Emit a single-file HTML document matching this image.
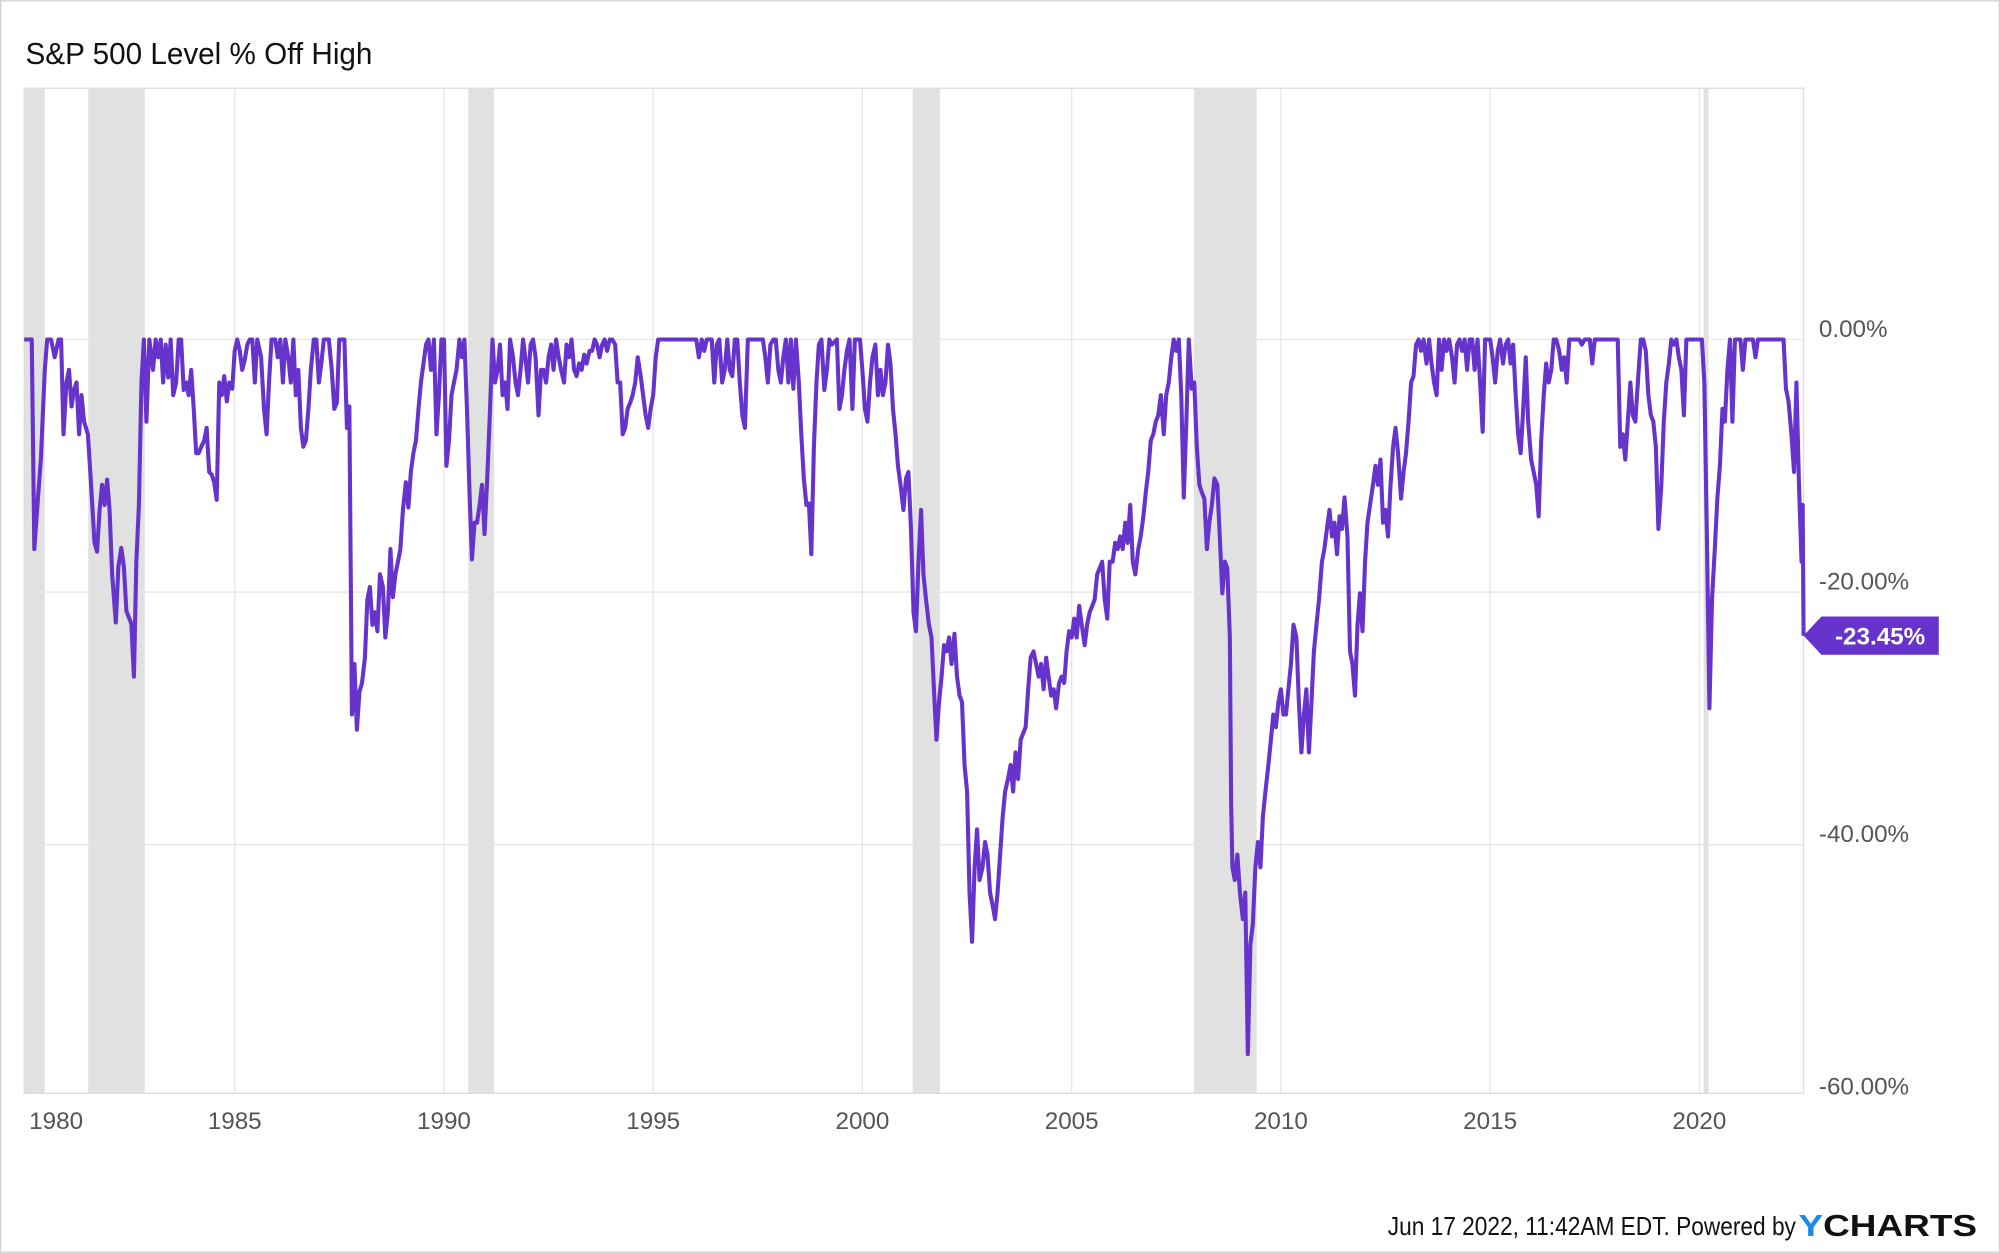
<!DOCTYPE html>
<html><head><meta charset="utf-8"><title>S&amp;P 500 Level % Off High</title>
<style>
html,body{margin:0;padding:0;background:#fff;}
svg{display:block;}
text{font-family:"Liberation Sans",sans-serif;}
</style></head>
<body>
<svg id="chart" width="2000" height="1253" viewBox="0 0 1568 982" xmlns="http://www.w3.org/2000/svg">
<rect x="0.5" y="0.5" width="1567" height="981" fill="#fff" stroke="#cfcfcf" stroke-width="1"/>
<text x="20" y="50" font-size="24" fill="#111" textLength="272" lengthAdjust="spacingAndGlyphs">S&amp;P 500 Level % Off High</text>
<g id="recessions"></g>
<g id="grid"></g>
<rect x="19" y="69" width="1395" height="788" fill="none" stroke="#dcdcdc" stroke-width="1"/>
<g id="series"></g>
<g id="yaxis"></g>
<g id="xaxis"></g>
<g id="endlabel"></g>
<text x="1408" y="968" font-size="20" fill="#111" text-anchor="end" textLength="320" lengthAdjust="spacingAndGlyphs">Jun 17 2022, 11:42AM EDT. Powered by</text>
<text x="1410" y="969" font-size="24" font-weight="bold" fill="#111" textLength="140" lengthAdjust="spacingAndGlyphs"><tspan fill="#1a8ae6">Y</tspan>CHARTS</text>
</svg>
<script>
const dates = [1979.97,1980.15,1980.21,1980.30,1980.37,1980.46,1980.52,1980.61,1980.70,1980.79,1980.85,1980.91,1980.98,1981.04,1981.10,1981.16,1981.22,1981.28,1981.34,1981.40,1981.49,1981.55,1981.65,1981.71,1981.77,1981.83,1981.89,1981.95,1982.01,1982.07,1982.16,1982.22,1982.29,1982.35,1982.41,1982.47,1982.53,1982.59,1982.65,1982.71,1982.77,1982.83,1982.89,1982.96,1983.05,1983.11,1983.17,1983.23,1983.29,1983.35,1983.41,1983.47,1983.53,1983.60,1983.66,1983.72,1983.78,1983.84,1983.90,1983.96,1984.02,1984.08,1984.14,1984.20,1984.27,1984.33,1984.39,1984.45,1984.51,1984.57,1984.63,1984.69,1984.75,1984.81,1984.87,1984.94,1985.00,1985.06,1985.12,1985.18,1985.24,1985.30,1985.36,1985.42,1985.48,1985.54,1985.63,1985.70,1985.76,1985.82,1985.88,1985.97,1986.03,1986.09,1986.15,1986.21,1986.28,1986.34,1986.40,1986.46,1986.52,1986.58,1986.64,1986.70,1986.76,1986.82,1986.89,1986.95,1987.01,1987.07,1987.13,1987.25,1987.32,1987.38,1987.44,1987.50,1987.62,1987.68,1987.74,1987.80,1987.86,1987.92,1987.98,1988.04,1988.11,1988.17,1988.23,1988.29,1988.35,1988.41,1988.47,1988.54,1988.60,1988.66,1988.72,1988.78,1988.84,1988.90,1988.96,1989.02,1989.09,1989.15,1989.21,1989.27,1989.33,1989.39,1989.45,1989.51,1989.57,1989.63,1989.69,1989.76,1989.82,1989.88,1989.94,1990.00,1990.06,1990.12,1990.18,1990.24,1990.30,1990.37,1990.43,1990.49,1990.55,1990.61,1990.67,1990.73,1990.79,1990.85,1990.91,1990.97,1991.04,1991.10,1991.16,1991.22,1991.28,1991.34,1991.40,1991.46,1991.52,1991.58,1991.65,1991.71,1991.77,1991.83,1991.89,1991.95,1992.01,1992.07,1992.13,1992.19,1992.26,1992.32,1992.38,1992.44,1992.50,1992.56,1992.62,1992.68,1992.74,1992.80,1992.87,1992.93,1992.99,1993.05,1993.11,1993.17,1993.23,1993.29,1993.35,1993.41,1993.48,1993.54,1993.60,1993.66,1993.72,1993.78,1993.84,1993.90,1993.96,1994.02,1994.09,1994.15,1994.21,1994.27,1994.33,1994.39,1994.45,1994.51,1994.57,1994.63,1994.70,1994.76,1994.82,1994.88,1994.94,1995.00,1995.06,1995.12,1996.03,1996.09,1996.16,1996.22,1996.28,1996.40,1996.46,1996.52,1996.58,1996.65,1996.71,1996.77,1996.83,1996.89,1996.95,1997.01,1997.07,1997.13,1997.19,1997.26,1997.62,1997.68,1997.74,1997.80,1997.87,1997.93,1997.99,1998.05,1998.11,1998.17,1998.23,1998.29,1998.35,1998.41,1998.48,1998.54,1998.60,1998.66,1998.72,1998.78,1998.84,1998.90,1998.96,1999.02,1999.09,1999.15,1999.21,1999.27,1999.39,1999.45,1999.51,1999.57,1999.63,1999.69,1999.76,1999.82,1999.94,2000.00,2000.06,2000.12,2000.18,2000.24,2000.31,2000.37,2000.43,2000.49,2000.55,2000.61,2000.67,2000.73,2000.79,2000.85,2000.91,2000.98,2001.04,2001.10,2001.16,2001.22,2001.28,2001.34,2001.40,2001.46,2001.52,2001.59,2001.65,2001.71,2001.77,2001.83,2001.89,2001.95,2002.01,2002.07,2002.13,2002.20,2002.26,2002.32,2002.38,2002.44,2002.50,2002.56,2002.62,2002.68,2002.74,2002.80,2002.87,2002.93,2002.99,2003.05,2003.11,2003.17,2003.23,2003.29,2003.35,2003.41,2003.48,2003.54,2003.60,2003.66,2003.72,2003.78,2003.84,2003.90,2003.96,2004.02,2004.09,2004.15,2004.21,2004.27,2004.33,2004.39,2004.45,2004.51,2004.57,2004.63,2004.70,2004.76,2004.82,2004.88,2004.94,2005.00,2005.06,2005.12,2005.18,2005.24,2005.31,2005.37,2005.43,2005.49,2005.55,2005.61,2005.67,2005.73,2005.79,2005.85,2005.91,2005.98,2006.04,2006.10,2006.16,2006.22,2006.28,2006.34,2006.40,2006.46,2006.52,2006.59,2006.65,2006.71,2006.77,2006.83,2006.89,2006.95,2007.01,2007.07,2007.13,2007.20,2007.26,2007.32,2007.38,2007.44,2007.50,2007.56,2007.62,2007.68,2007.74,2007.80,2007.87,2007.93,2007.99,2008.05,2008.11,2008.17,2008.23,2008.29,2008.35,2008.41,2008.48,2008.54,2008.60,2008.66,2008.72,2008.78,2008.81,2008.84,2008.90,2008.96,2009.02,2009.09,2009.15,2009.21,2009.27,2009.33,2009.39,2009.45,2009.51,2009.57,2009.63,2009.70,2009.76,2009.82,2009.88,2009.94,2010.00,2010.06,2010.12,2010.18,2010.24,2010.30,2010.37,2010.43,2010.49,2010.55,2010.61,2010.67,2010.73,2010.79,2010.85,2010.91,2010.98,2011.04,2011.10,2011.16,2011.22,2011.28,2011.34,2011.40,2011.46,2011.52,2011.59,2011.65,2011.71,2011.77,2011.83,2011.89,2011.95,2012.01,2012.07,2012.13,2012.20,2012.26,2012.32,2012.38,2012.44,2012.50,2012.56,2012.62,2012.68,2012.74,2012.80,2012.87,2012.93,2012.99,2013.05,2013.11,2013.17,2013.23,2013.29,2013.35,2013.41,2013.48,2013.54,2013.60,2013.66,2013.72,2013.78,2013.84,2013.90,2013.96,2014.02,2014.09,2014.15,2014.21,2014.27,2014.33,2014.39,2014.45,2014.51,2014.57,2014.63,2014.70,2014.76,2014.82,2014.88,2015.00,2015.06,2015.12,2015.18,2015.24,2015.31,2015.37,2015.43,2015.49,2015.55,2015.61,2015.67,2015.73,2015.79,2015.85,2015.91,2015.98,2016.04,2016.10,2016.16,2016.22,2016.28,2016.34,2016.40,2016.46,2016.52,2016.58,2016.65,2016.71,2016.77,2016.83,2016.89,2017.13,2017.19,2017.26,2017.38,2017.44,2017.50,2018.05,2018.11,2018.17,2018.23,2018.29,2018.35,2018.41,2018.47,2018.54,2018.60,2018.66,2018.72,2018.78,2018.84,2018.90,2018.96,2019.02,2019.09,2019.15,2019.21,2019.27,2019.33,2019.39,2019.45,2019.51,2019.57,2019.63,2019.69,2020.06,2020.12,2020.18,2020.24,2020.30,2020.37,2020.43,2020.49,2020.55,2020.61,2020.67,2020.73,2020.79,2020.85,2020.98,2021.04,2021.10,2021.28,2021.34,2021.40,2022.01,2022.07,2022.13,2022.20,2022.26,2022.32,2022.38,2022.44,2022.47,2022.49];
const values = [0,0,-16.6,-12.5,-9.4,-2.4,0,0,-1.4,0,0,-7.5,-3.4,-2.4,-5.3,-4.0,-3.4,-7.5,-4.4,-6.5,-7.5,-10.5,-16.1,-16.8,-13.5,-11.5,-13.1,-11.1,-13.5,-18.6,-22.4,-18.0,-16.5,-18.0,-21.5,-22.0,-22.5,-26.7,-17.6,-13.1,-3.4,0,-6.5,0,-2.4,0,-1.4,0,-3.4,-0.4,-3.0,0,-4.4,-3.4,0,0,-4.0,-3.4,-4.4,-2.4,-5.5,-9.0,-9.0,-8.5,-8.0,-7.0,-10.5,-10.7,-11.3,-12.7,-3.4,-4.4,-2.9,-4.9,-3.4,-3.9,-0.9,0,-0.9,-2.4,-1.6,-0.4,0,0,-3.4,0,-1.4,-5.5,-7.5,-3.4,0,0,-1.4,0,-3.4,0,-1.4,-3.4,0,-4.4,-2.4,-7.0,-8.5,-8.0,-5.5,-2.4,0,0,-3.4,-1.9,0,0,-2.4,-5.5,-5.0,0,0,-7.0,-5.3,-29.7,-25.7,-30.9,-27.9,-27.2,-25.2,-20.6,-19.6,-22.6,-21.6,-23.1,-18.6,-19.6,-23.6,-21.6,-16.6,-20.4,-18.6,-17.6,-16.6,-13.5,-11.3,-13.3,-10.5,-9.0,-8.0,-5.5,-3.4,-1.9,-0.4,0,-2.4,0,-7.5,-4.4,0,0,-10.0,-8.0,-4.4,-3.4,-2.4,0,-1.4,0,-5.5,-12.1,-17.4,-14.5,-14.5,-13.1,-11.5,-15.4,-10.5,-5.5,0,-3.4,-2.4,-0.4,-4.4,-3.4,-5.5,0,-1.4,-3.4,-4.4,-2.4,0,-1.6,-3.4,-0.4,0,-1.4,-6.0,-2.4,-2.4,-3.4,-1.4,-0.4,-2.4,0,-1.4,-2.4,-3.4,-0.4,-1.4,0,-2.4,-2.9,-1.9,-2.4,-1.2,-1.9,-0.9,-0.9,0,-0.4,-1.4,-0.4,0,-0.9,0,0,-0.4,-3.4,-3.4,-7.5,-7.0,-5.5,-5.0,-4.4,-3.4,-1.4,-2.9,-4.4,-6.0,-7.0,-5.5,-4.4,-1.4,0,0,-1.4,0,-0.9,0,0,-3.4,-0.4,0,-3.4,-2.4,0,-2.4,-2.9,0,0,-3.4,-6.0,-7.0,0,0,-1.4,-3.4,-0.4,0,0,-2.4,-3.4,-1.4,0,-3.4,0,-3.9,0,-3.4,-7.5,-11.0,-13.1,-13.0,-17.0,-8.5,-3.4,-0.4,0,-4.0,-2.4,0,-0.4,0,-5.5,-4.4,-2.4,-0.9,0,-5.5,0,0,-2.4,-5.5,-6.5,-3.4,-1.4,-0.4,-4.4,-2.4,-4.4,-3.4,-0.4,-1.9,-5.5,-7.5,-10.0,-11.5,-13.5,-11.0,-10.5,-15.0,-21.6,-23.1,-17.6,-13.5,-18.6,-20.6,-22.6,-23.6,-27.7,-31.7,-28.7,-26.7,-24.2,-24.7,-23.6,-25.7,-23.3,-26.7,-28.2,-28.7,-33.7,-35.8,-43.8,-47.7,-41.8,-38.8,-42.8,-41.8,-39.8,-40.8,-43.8,-44.8,-45.9,-43.8,-40.8,-37.8,-35.8,-34.8,-33.7,-35.8,-32.7,-34.8,-31.7,-31.2,-30.7,-27.7,-25.2,-24.7,-25.7,-26.7,-25.7,-27.7,-25.2,-26.7,-28.2,-27.7,-29.2,-27.2,-26.7,-27.2,-24.7,-23.1,-23.6,-22.1,-23.6,-21.1,-22.6,-24.2,-22.6,-21.6,-21.1,-20.6,-18.6,-18.1,-17.6,-20.6,-22.1,-17.6,-17.6,-16.1,-16.6,-15.6,-16.6,-14.5,-16.1,-13.1,-17.6,-18.6,-16.6,-15.6,-14.1,-12.1,-10.5,-8.0,-7.5,-6.5,-6.0,-4.4,-7.5,-4.4,-3.4,-1.4,0,-0.9,0,-4.4,-12.5,-6.5,0,-3.9,-3.4,-8.5,-11.5,-12.1,-12.6,-16.6,-14.5,-13.1,-11.0,-11.5,-15.6,-20.1,-17.6,-18.1,-23.6,-36.7,-41.8,-42.8,-40.8,-43.8,-45.9,-43.8,-56.6,-47.9,-46.3,-41.8,-39.8,-41.8,-37.8,-35.8,-33.7,-31.7,-29.7,-30.7,-28.7,-27.7,-29.7,-29.7,-27.7,-25.7,-22.6,-23.6,-28.7,-32.7,-29.7,-27.7,-32.7,-28.7,-24.7,-22.6,-20.6,-17.6,-16.6,-15.0,-13.5,-15.6,-14.5,-17.0,-14.0,-15.0,-12.5,-15.6,-24.7,-25.7,-28.2,-22.6,-20.1,-23.1,-17.6,-14.5,-13.1,-11.5,-10.0,-11.5,-9.5,-14.5,-13.5,-15.6,-11.5,-8.5,-7.0,-9.0,-12.6,-10.5,-9.0,-6.5,-3.4,-2.9,-0.4,0,-0.9,0,-1.9,0,-1.9,-3.4,-4.4,0,-2.4,0,-0.9,0,-1.4,-3.4,-0.4,0,-0.9,0,-2.4,0,0,-2.4,0,-3.4,-7.3,0,0,-1.4,-3.4,-0.9,0,-1.9,-0.4,0,-1.9,-0.4,-4.4,-7.5,-9.0,-5.5,-1.4,-6.5,-9.5,-10.5,-11.5,-14.0,-8.0,-4.4,-1.9,-3.4,-2.4,0,0,-0.9,-2.4,-1.4,-3.4,0,0,-0.4,0,0,-1.9,0,0,-8.5,-7.5,-9.5,-6.5,-3.4,-6.0,-6.5,-2.9,0,0,-0.9,-4.4,-6.0,-6.5,-8.5,-15.0,-11.5,-6.5,-3.4,-1.9,0,-0.4,0,-1.4,-2.4,-6.0,0,0,-3.4,-15.6,-29.2,-20.6,-16.6,-12.6,-10.0,-5.5,-6.5,-2.4,0,-6.5,0,0,-2.4,0,0,-1.4,0,0,-3.9,-4.9,-7.5,-10.5,-3.4,-11.5,-17.6,-13.1,-23.45];
const recessionStarts = [1979.97, 1981.50, 1990.58, 2001.20, 2007.92, 2020.10];
const recessionEnds   = [1980.46, 1982.85, 1991.20, 2001.85, 2009.42, 2020.22];
const yTicks = [0, -20, -40, -60];
const yTickLabels = ["0.00%", "-20.00%", "-40.00%", "-60.00%"];
const xTicks = [1980, 1985, 1990, 1995, 2000, 2005, 2010, 2015, 2020];
const xTickLabels = ["1980", "1985", "1990", "1995", "2000", "2005", "2010", "2015", "2020"];
const lastLabel = "-23.45%";

const NS = "http://www.w3.org/2000/svg";
const X0 = 19, X1 = 1414, Y0 = 69, Y1 = 857;
const D0 = 1979.97, D1 = 2022.49;
function xs(d){ return X0 + (d - D0) / (D1 - D0) * (X1 - X0); }
function ys(v){ return 266 - v * 9.9; }
function mk(tag, attrs, parent){
  const e = document.createElementNS(NS, tag);
  for (const k in attrs) e.setAttribute(k, attrs[k]);
  parent.appendChild(e);
  return e;
}
const rg = document.getElementById('recessions');
recessionStarts.forEach((s, i) => {
  const a = Math.max(X0, xs(s)), b = Math.min(X1, xs(recessionEnds[i]));
  const r = mk('rect', {x: a, y: Y0, width: b - a, height: Y1 - Y0, fill: '#e1e1e1'}, rg);
  
  
});
const gg = document.getElementById('grid');
xTicks.forEach(t => {
  const x = xs(t);
  if (x <= X0 + 2) return;
  const l = mk('line', {x1: x, x2: x, y1: Y0, y2: Y1, stroke: '#e6e6e6', 'stroke-width': 1}, gg);
  
  
});
yTicks.forEach(t => {
  const y = ys(t);
  if (y > Y1) return;
  const l = mk('line', {x1: X0, x2: X1, y1: y, y2: y, stroke: '#e6e6e6', 'stroke-width': 1}, gg);
  
  
});
const sg = document.getElementById('series');
let d = '';
dates.forEach((dt, i) => { d += (i ? 'L' : 'M') + xs(dt).toFixed(1) + ',' + ys(values[i]).toFixed(1); });
const path = mk('path', {d: d, fill: 'none', stroke: '#6633cc', 'stroke-width': 3.2, 'stroke-linejoin': 'round'}, sg);


const ya = document.getElementById('yaxis');
yTicks.forEach((t, i) => {
  const y = Math.min(ys(t), 860);
  const tx = mk('text', {x: 1426, y: y - 2, 'font-size': 19, fill: '#555'}, ya);
  
  
  tx.textContent = yTickLabels[i];
});
const xa = document.getElementById('xaxis');
xTicks.forEach((t, i) => {
  let x = xs(t);
  if (x < 44) x = 44;
  const tx = mk('text', {x: x, y: 885, 'font-size': 19, fill: '#555', 'text-anchor': 'middle'}, xa);
  
  
  tx.textContent = xTickLabels[i];
});
const el = document.getElementById('endlabel');
const ly = ys(values[values.length - 1]);
const lx = xs(dates[dates.length - 1]);
const tag = mk('path', {d: `M${lx},${ly} L${lx + 14},${ly - 15} L${lx + 106},${ly - 15} L${lx + 106},${ly + 15} L${lx + 14},${ly + 15} Z`, fill: '#6633cc'}, el);


const lt = mk('text', {x: lx + 60, y: ly + 7, 'font-size': 19, 'font-weight': 'bold', fill: '#fff', 'text-anchor': 'middle'}, el);


lt.textContent = lastLabel;
</script>
</body></html>
